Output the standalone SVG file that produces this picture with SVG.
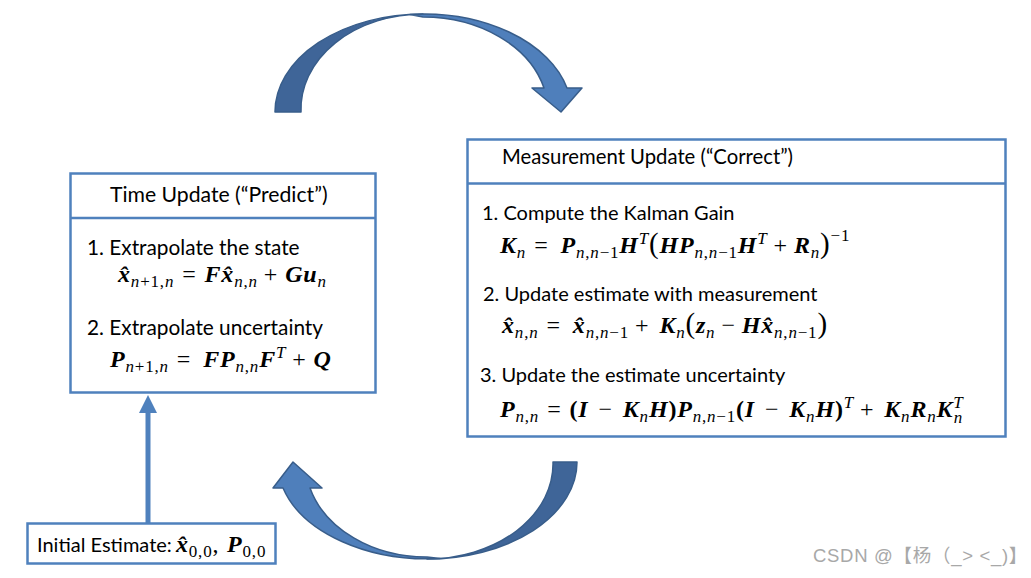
<svg xmlns="http://www.w3.org/2000/svg" width="1031" height="578" viewBox="0 0 1031 578">
<style>
.t{font-family:Lato,"Liberation Sans",sans-serif;font-size:20px;fill:#000}
.tl{font-size:20.8px}
.m{font-family:"Liberation Serif",serif;font-size:24px;font-weight:bold;font-style:italic;fill:#000;letter-spacing:0.8px}
.s{font-size:17px;font-weight:normal;font-style:italic}
.u{font-style:normal}
.o{font-weight:normal;font-style:normal}
.box{fill:#fff;stroke:#4f81bd;stroke-width:2.5}
.dark{fill:#3f6598;stroke:#385d8a;stroke-width:1.5;stroke-linejoin:round}
.light{fill:#4f7fbb;stroke:#385d8a;stroke-width:1.5;stroke-linejoin:round}
.wm{font-family:"Liberation Sans","Noto Sans CJK SC",sans-serif;font-size:18.5px;letter-spacing:0.7px;fill:#a8a8a8}
</style>
<rect width="1031" height="578" fill="#fff"/>
<g id="connectors">
<g id="cycle-top">
<path class="dark" d="M275,112 A148,98 0 0 1 423,14 A122,95 0 0 0 301,112 Z"/>
<path class="light" d="M410,14.4 A148,98 0 0 1 567,88 L582,88 L561,112 L532,88 L544,88 A125,95 0 0 0 423,17 Z"/>
</g>
<g id="cycle-bottom">
<path class="dark" d="M577,462 A150,97 0 0 1 427,559 A126,95 0 0 0 553,462 Z"/>
<path class="light" d="M440,558.5 A150,97 0 0 1 283,488 L273,488 L293,462 L322,488 L310,488 A121,95 0 0 0 427,557 Z"/>
</g>
<g id="init-arrow">
<line x1="148" y1="523" x2="148" y2="411" stroke="#4f81bd" stroke-width="5"/>
<polygon points="139,413 157,413 148,395" fill="#4f81bd"/>
</g>
</g>
<g id="time-update">
<rect class="box" x="70.5" y="173.5" width="305" height="219"/>
<line x1="70.5" y1="218" x2="375.5" y2="218" stroke="#4f81bd" stroke-width="2.5"/>
<text class="t" x="110" y="202" style="font-size:21.2px">Time Update (“Predict”)</text>
<text class="t tl" x="87" y="255">1. Extrapolate the state</text>
<text class="m" x="118" y="282">x&#x302;<tspan class="s" dy="5">n<tspan class="u">+1,</tspan>n</tspan><tspan class="o" dy="-5" dx="8">=</tspan><tspan dx="8">F</tspan>x&#x302;<tspan class="s" dy="5">n<tspan class="u">,</tspan>n</tspan><tspan class="o" dy="-5" dx="6">+</tspan><tspan dx="7">Gu</tspan><tspan class="s" dy="5">n</tspan></text>
<text class="t tl" x="87" y="335">2. Extrapolate uncertainty</text>
<text class="m" x="110" y="367">P<tspan class="s" dy="5">n<tspan class="u">+1,</tspan>n</tspan><tspan class="o" dy="-5" dx="8">=</tspan><tspan dx="12">FP</tspan><tspan class="s" dy="5">n<tspan class="u">,</tspan>n</tspan><tspan dy="-5">F</tspan><tspan class="s" dy="-9">T</tspan><tspan class="o" dy="9" dx="6">+</tspan><tspan dx="7">Q</tspan></text>
</g>
<g id="measurement-update">
<rect class="box" x="467.5" y="139.5" width="538" height="297"/>
<line x1="467.5" y1="183.5" x2="1005.5" y2="183.5" stroke="#4f81bd" stroke-width="2.5"/>
<text class="t" x="502" y="164" style="font-size:20.3px">Measurement Update (“Correct”)</text>
<text class="t" x="482" y="220">1. Compute the Kalman Gain</text>
<text class="m" x="500" y="253">K<tspan class="s" dy="5">n</tspan><tspan class="o" dy="-5" dx="8">=</tspan><tspan dx="12">P</tspan><tspan class="s" dy="5">n<tspan class="u">,</tspan>n<tspan class="u">−1</tspan></tspan><tspan dy="-5">H</tspan><tspan class="s" dy="-9">T</tspan><tspan class="o" dy="9" style="font-size:29px">(</tspan><tspan>HP</tspan><tspan class="s" dy="5">n<tspan class="u">,</tspan>n<tspan class="u">−1</tspan></tspan><tspan dy="-5">H</tspan><tspan class="s" dy="-9">T</tspan><tspan class="o" dy="9" dx="6">+</tspan><tspan dx="6">R</tspan><tspan class="s" dy="5">n</tspan><tspan class="o" dy="-5" style="font-size:29px">)</tspan><tspan class="s u" dy="-12">−1</tspan></text>
<text class="t" x="483" y="301">2. Update estimate with measurement</text>
<text class="m" x="502" y="333">x&#x302;<tspan class="s" dy="5">n<tspan class="u">,</tspan>n</tspan><tspan class="o" dy="-5" dx="8">=</tspan><tspan dx="12">x&#x302;</tspan><tspan class="s" dy="5">n<tspan class="u">,</tspan>n<tspan class="u">−1</tspan></tspan><tspan class="o" dy="-5" dx="6">+</tspan><tspan dx="10">K</tspan><tspan class="s" dy="5">n</tspan><tspan class="o" dy="-5" style="font-size:29px">(</tspan><tspan>z</tspan><tspan class="s" dy="5">n</tspan><tspan class="o" dy="-5" dx="6">−</tspan><tspan dx="6">Hx&#x302;</tspan><tspan class="s" dy="5">n<tspan class="u">,</tspan>n<tspan class="u">−1</tspan></tspan><tspan class="o" dy="-5" style="font-size:29px">)</tspan></text>
<text class="t" x="480" y="382">3. Update the estimate uncertainty</text>
<text class="m" x="500" y="417">P<tspan class="s" dy="5">n<tspan class="u">,</tspan>n</tspan><tspan class="o" dy="-5" dx="8">=</tspan><tspan dx="8" class="u">(</tspan>I<tspan class="o" dx="10">−</tspan><tspan dx="10">K</tspan><tspan class="s" dy="5">n</tspan><tspan dy="-5">H</tspan><tspan class="u">)</tspan>P<tspan class="s" dy="5">n<tspan class="u">,</tspan>n<tspan class="u">−1</tspan></tspan><tspan class="u" dy="-5">(</tspan>I<tspan class="o" dx="10">−</tspan><tspan dx="10">K</tspan><tspan class="s" dy="5">n</tspan><tspan dy="-5">H</tspan><tspan class="u">)</tspan><tspan class="s" dy="-9">T</tspan><tspan class="o" dy="9" dx="6">+</tspan><tspan dx="10">K</tspan><tspan class="s" dy="5">n</tspan><tspan dy="-5">R</tspan><tspan class="s" dy="5">n</tspan><tspan dy="-5">K</tspan><tspan class="s" dy="-9">T</tspan><tspan class="s" dx="-10" dy="15">n</tspan></text>
</g>
<g id="initial-estimate">
<rect class="box" x="27.5" y="523.5" width="248" height="40"/>
<text class="t" x="37" y="552">Initial Estimate:</text>
<text class="m" x="176" y="552">x&#x302;<tspan class="s u" dy="5">0,0</tspan><tspan class="o" dy="-5">, </tspan><tspan dx="1">P</tspan><tspan class="s u" dy="5">0,0</tspan></text>
</g>
<text class="wm" x="813" y="562">CSDN @【杨（_&gt; &lt;_)】</text>
</svg>
